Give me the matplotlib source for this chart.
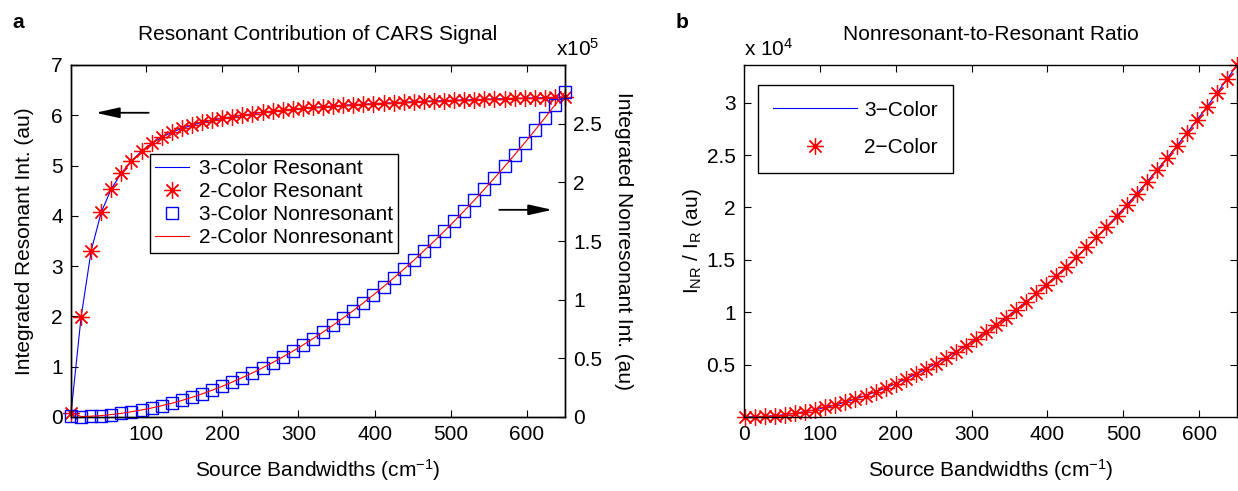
import matplotlib
matplotlib.use('Agg')
import matplotlib.pyplot as plt
from matplotlib.lines import Line2D

plt.rcParams['font.family'] = 'Liberation Sans'
plt.rcParams['mathtext.fontset'] = 'custom'
plt.rcParams['mathtext.rm'] = 'Liberation Sans'
plt.rcParams['mathtext.it'] = 'Liberation Sans:italic'
plt.rcParams['font.size'] = 15

# source bandwidths (cm^-1)
bandwidth = [
    1.3, 14.5, 27.8, 41.0, 54.3, 67.5, 80.7, 94.0, 107.2, 120.5,
    133.7, 146.9, 160.2, 173.4, 186.7, 199.9, 213.1, 226.4, 239.6, 252.9,
    266.1, 279.3, 292.6, 305.8, 319.1, 332.3, 345.5, 358.8, 372.0, 385.3,
    398.5, 411.7, 425.0, 438.2, 451.5, 464.7, 477.9, 491.2, 504.4, 517.7,
    530.9, 544.1, 557.4, 570.6, 583.9, 597.1, 610.3, 623.6, 636.8, 650.0,
]

# integrated resonant intensity (au), same for 3- and 2-color
resonant = [
    0.07, 1.98, 3.31, 4.07, 4.54, 4.85, 5.09, 5.29, 5.44, 5.56,
    5.66, 5.74, 5.80, 5.86, 5.90, 5.94, 5.97, 6.00, 6.03, 6.06,
    6.08, 6.10, 6.12, 6.14, 6.155, 6.17, 6.185, 6.20, 6.21, 6.22,
    6.23, 6.24, 6.25, 6.26, 6.27, 6.28, 6.285, 6.29, 6.30, 6.305,
    6.31, 6.32, 6.325, 6.33, 6.335, 6.34, 6.345, 6.35, 6.355, 6.36,
]

# integrated nonresonant intensity (x1e5 au)
nonres_3color = [
    0.005, 0.004, 0.007, 0.012, 0.021, 0.031, 0.045, 0.060, 0.077, 0.097,
    0.117, 0.141, 0.168, 0.197, 0.229, 0.262, 0.298, 0.336, 0.376, 0.419,
    0.464, 0.511, 0.561, 0.613, 0.668, 0.724, 0.783, 0.844, 0.907, 0.973,
    1.041, 1.111, 1.184, 1.259, 1.336, 1.416, 1.497, 1.582, 1.668, 1.757,
    1.848, 1.941, 2.037, 2.135, 2.235, 2.337, 2.442, 2.549, 2.659, 2.770,
]
nonres_2color = [0.040] + nonres_3color[1:]

# nonresonant-to-resonant ratio (x1e4 au)
ratio = [
    0.001, 0.002, 0.006, 0.013, 0.023, 0.036, 0.052, 0.070, 0.091, 0.115,
    0.142, 0.172, 0.204, 0.239, 0.277, 0.318, 0.361, 0.408, 0.456, 0.509,
    0.563, 0.620, 0.681, 0.743, 0.810, 0.878, 0.949, 1.024, 1.100, 1.180,
    1.263, 1.348, 1.436, 1.527, 1.621, 1.717, 1.816, 1.918, 2.023, 2.131,
    2.241, 2.354, 2.470, 2.588, 2.711, 2.834, 2.961, 3.092, 3.224, 3.359,
]

ASTERISK = (8, 2, 0)
STAR = dict(ls='none', marker=ASTERISK, ms=12, mec='r', mew=0.9)
SQUARE = dict(ls='none', marker='s', ms=8, mfc='none', mec='b', mew=1.0)
FS = 15
W, H = 1238, 491


def style_ticks(a, **kw):
    a.tick_params(direction='in', length=5, width=0.8, pad=6, labelsize=FS, **kw)
    for s in a.spines.values():
        s.set_linewidth(1.0)


fig = plt.figure(figsize=(W / 100, H / 100), dpi=100)

# ---------------------------------------------------------------- panel a
ax = fig.add_axes([71 / W, (H - 417) / H, 494 / W, 352 / H])
ax.plot(bandwidth, resonant, color='b', lw=0.8)
ax.plot(bandwidth, resonant, clip_on=False, **STAR)
ax.set_xlim(1.3, 650)
ax.set_ylim(0, 7)
ax.set_xticks([100, 200, 300, 400, 500, 600])
ax.set_yticks(range(8))
style_ticks(ax, top=True, right=False)
ax.set_xlabel(r'Source Bandwidths (cm$^{-1}$)', fontsize=FS, labelpad=9)
ax.set_ylabel('Integrated Resonant Int. (au)', fontsize=FS, labelpad=12)
ax.set_title('Resonant Contribution of CARS Signal', fontsize=FS, pad=18)

ax2 = ax.twinx()
ax2.plot(bandwidth, nonres_3color, clip_on=False, **SQUARE)
ax2.plot(bandwidth, nonres_2color, color='r', lw=0.8)
ax2.set_ylim(0, 3.0)
ax2.set_yticks([0, 0.5, 1, 1.5, 2, 2.5])
ax2.set_yticklabels(['0', '0.5', '1', '1.5', '2', '2.5'])
style_ticks(ax2, right=True, left=False)
ax2.set_ylabel('Integrated Nonresonant Int. (au)', fontsize=FS,
               rotation=270, labelpad=22)
ax2.text(1.026, 1.015, r'x10$^5$', transform=ax2.transAxes,
         ha='center', va='bottom', fontsize=FS)

arrow = dict(arrowstyle='-|>,head_length=0.9,head_width=0.2', color='k',
             lw=1.3, mutation_scale=16)
ax.annotate('', xy=(30, 6.05), xytext=(107, 6.05), arrowprops=arrow)
ax.annotate('', xy=(637, 4.12), xytext=(560, 4.12), arrowprops=arrow)

handles = [
    Line2D([], [], color='b', lw=0.8),
    Line2D([], [], **STAR),
    Line2D([], [], **SQUARE),
    Line2D([], [], color='r', lw=0.8),
]
labels = ['3-Color Resonant', '2-Color Resonant',
          '3-Color Nonresonant', '2-Color Nonresonant']
leg = ax2.legend(handles, labels, loc='upper left', bbox_to_anchor=(0.16, 0.748),
                 borderaxespad=0, fancybox=False, edgecolor='k', framealpha=1,
                 fontsize=FS, handlelength=1.6, handletextpad=0.5,
                 labelspacing=0.2, borderpad=0.25)
leg.get_frame().set_linewidth(1.0)

# ---------------------------------------------------------------- panel b
axr = fig.add_axes([744 / W, (H - 417) / H, 493 / W, 352 / H])
axr.plot(bandwidth, ratio, color='b', lw=0.8)
axr.plot(bandwidth, ratio, clip_on=False, **STAR)
axr.set_xlim(0, 650)
axr.set_ylim(0, 3.36)
axr.set_xticks([0, 100, 200, 300, 400, 500, 600])
axr.set_yticks([0.5, 1, 1.5, 2, 2.5, 3])
axr.set_yticklabels(['0.5', '1', '1.5', '2', '2.5', '3'])
style_ticks(axr, top=True, right=True)
axr.set_xlabel(r'Source Bandwidths (cm$^{-1}$)', fontsize=FS, labelpad=9)
axr.set_ylabel(r'I$_{\rm NR}$ / I$_{\rm R}$ (au)', fontsize=FS, labelpad=2)
axr.set_title('Nonresonant-to-Resonant Ratio', fontsize=FS, pad=18)
axr.text(0.0, 1.015, r'x 10$^4$', transform=axr.transAxes,
         ha='left', va='bottom', fontsize=FS)

handles_r = [
    Line2D([], [], color='b', lw=0.8),
    Line2D([], [], **STAR),
]
leg_r = axr.legend(handles_r, ['3\u2212Color', '2\u2212Color'], loc='upper left',
                   bbox_to_anchor=(0.028, 0.943), borderaxespad=0, fancybox=False,
                   edgecolor='k', framealpha=1, fontsize=FS, handlelength=4.0,
                   handletextpad=0.35, labelspacing=0.9, borderpad=0.75)
leg_r.get_frame().set_linewidth(1.0)

fig.text(12 / W, 1 - 22 / H, 'a', fontsize=FS, fontweight='bold', va='center')
fig.text(676 / W, 1 - 22 / H, 'b', fontsize=FS, fontweight='bold', va='center')

fig.savefig('out.png', dpi=100)
